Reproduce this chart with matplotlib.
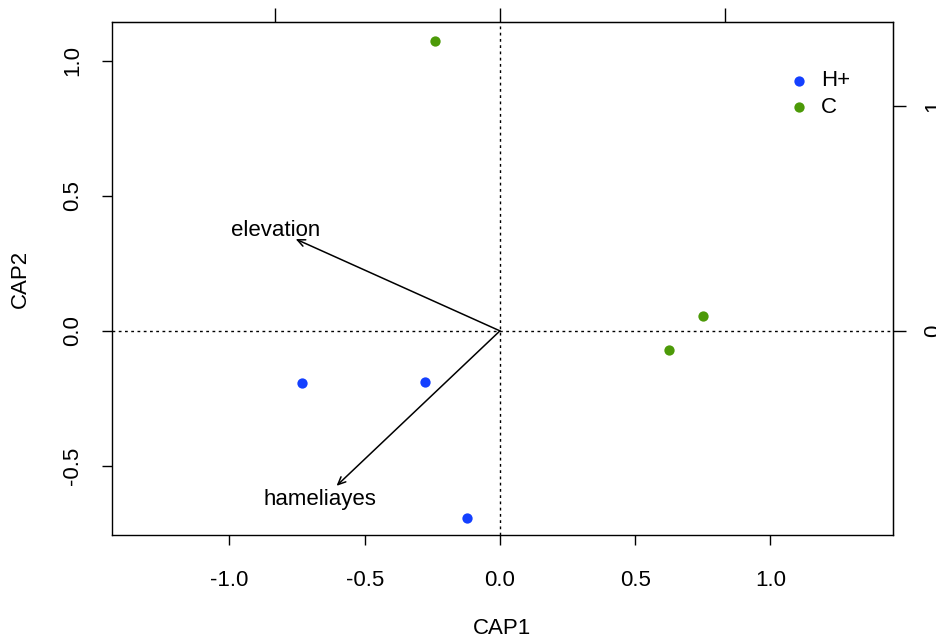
import numpy as np
import matplotlib
matplotlib.use("Agg")
import matplotlib.pyplot as plt

plt.rcParams["font.family"] = ["Liberation Sans", "DejaVu Sans"]

## site scores
h_cap1 = [-0.732, -0.277, -0.122]
h_cap2 = [-0.193, -0.189, -0.693]
c_cap1 = [-0.240, 0.625, 0.750]
c_cap2 = [1.074, -0.070, 0.056]

## biplot arrows (environmental variables)
env_names = ["elevation", "hameliayes"]
env_cap1 = [-0.755, -0.604]
env_cap2 = [0.340, -0.574]

scale = 0.832  ## secondary (species) axis scaling

blue = "#1440ff"
green = "#4c9a08"

if __name__ == "__main__":

	fig = plt.figure(
		figsize=(9.36, 6.43),
		dpi=100)
	ax = fig.add_axes([
		112 / 936,
		108 / 643,
		781 / 936,
		513 / 643,
		])

	ax.axhline(0, color="black", linewidth=1, linestyle=(0, (2, 2.5)), zorder=1)
	ax.axvline(0, color="black", linewidth=1, linestyle=(0, (2, 2.5)), zorder=1)

	for name, ex, ey in zip(env_names, env_cap1, env_cap2):
		ax.annotate(
			"",
			xy=(ex, ey),
			xytext=(0, 0),
			arrowprops=dict(
				arrowstyle="->,head_length=0.55,head_width=0.25",
				color="black",
				linewidth=1.1,
				shrinkA=0,
				shrinkB=0),
			zorder=2)
		ax.text(
			ex * 1.1,
			ey * 1.09,
			name,
			ha="center",
			va="center",
			fontsize=16)

	ax.scatter(
		h_cap1,
		h_cap2,
		color=blue,
		s=55,
		label="H+",
		zorder=3,
		linewidths=0)
	ax.scatter(
		c_cap1,
		c_cap2,
		color=green,
		s=55,
		label="C",
		zorder=3,
		linewidths=0)

	## format plot
	ax.set_xlim([-1.434, 1.453])
	ax.set_ylim([-0.756, 1.144])
	ax.set_xticks([-1.0, -0.5, 0.0, 0.5, 1.0])
	ax.set_yticks([-0.5, 0.0, 0.5, 1.0])
	ax.set_xticklabels(["-1.0", "-0.5", "0.0", "0.5", "1.0"])
	ax.set_yticklabels(["-0.5", "0.0", "0.5", "1.0"], rotation=90, va="center")
	ax.tick_params(
		direction="out",
		length=7,
		width=1,
		labelsize=16,
		pad=18)
	ax.tick_params(axis="y", pad=14)
	ax.set_xlabel("CAP1", fontsize=16, labelpad=20)
	ax.set_ylabel("CAP2", fontsize=16, labelpad=22)
	for sp in ax.spines.values():
		sp.set_linewidth(1)

	## species axes on top / right (top labels fall outside the figure)
	secx = ax.secondary_xaxis(
		"top",
		functions=(lambda v: v / scale, lambda v: v * scale))
	secx.set_xticks([-1, 0, 1])
	secx.tick_params(direction="out", length=10, width=1, labeltop=False)
	secy = ax.secondary_yaxis(
		"right",
		functions=(lambda v: v / scale, lambda v: v * scale))
	secy.set_yticks([0, 1])
	secy.set_yticklabels(["0", "1"], rotation=90, va="center")
	secy.tick_params(direction="out", length=9, width=1, labelsize=16, pad=13)

	## legend
	ax.legend(
		loc="upper left",
		bbox_to_anchor=(0.84, 0.923),
		frameon=False,
		fontsize=16,
		handletextpad=0.0,
		labelspacing=0.25,
		borderaxespad=0)

	fig.savefig("out.png", dpi=100)
	plt.close()
